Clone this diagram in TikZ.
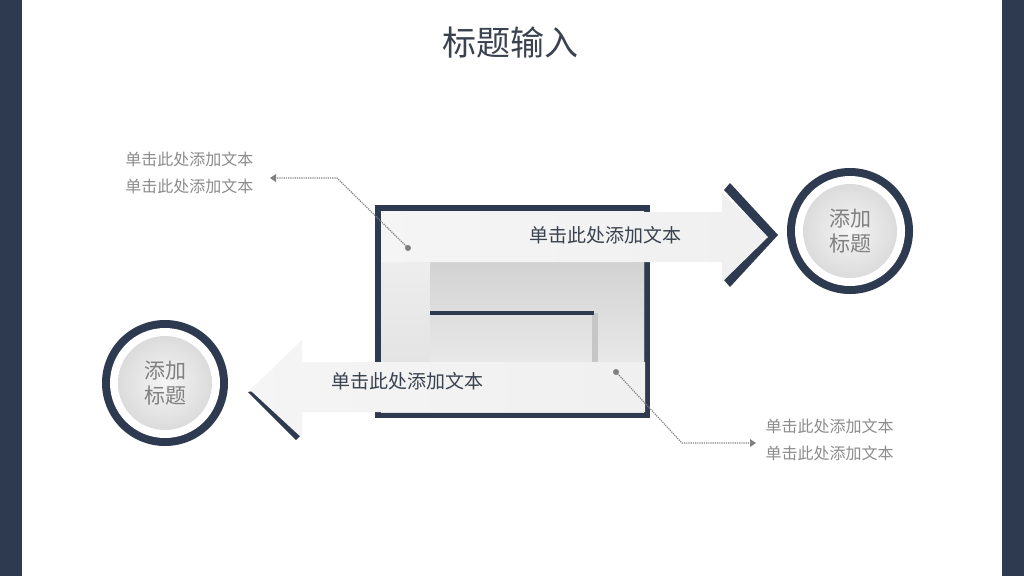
\documentclass[tikz,border=0pt]{standalone}
\usepackage{fontspec}
\newfontfamily\cjk{Noto Sans CJK SC}
\begin{document}
\begin{tikzpicture}[x=1pt,y=-1pt,
  note/.style={font=\cjk\fontsize{16}{27}\selectfont,text=gray!90,align=left},
  lead/.style={draw=gray,densely dotted,line width=1.2pt},
  arrtext/.style={font=\cjk\fontsize{19}{20}\selectfont,text=navytext}]
\definecolor{navy}{HTML}{2E3A4F}
\definecolor{navytext}{HTML}{3A4250}
\useasboundingbox (0,0) rectangle (1024,576);
\fill[white] (0,0) rectangle (1024,576);
\fill[navy] (0,0) rectangle (22,576);
\fill[navy] (1002,0) rectangle (1024,576);
\node (title) at (510,43) {\cjk\fontsize{34}{36}\selectfont\color{navytext}标题输入};
% frame
\fill[navy] (375,205) rectangle (650,418);
\shade[top color=gray!10,bottom color=gray!25] (381,211) rectangle (644,412);
\shade[top color=gray!35,bottom color=gray!18] (430,262) rectangle (644,362);
\fill[gray!45] (592,313) rectangle (598,362);
\draw[navy,line width=4pt] (430,313) -- (594,313);
% upper arrow
\fill[navy] (730,183) -- (778,235) -- (730,287) -- (724,280) -- (766,235) -- (724,190) -- cycle;
\shade[left color=gray!8,right color=gray!12] (381,212) -- (722,212) -- (722,192) -- (768,237) -- (722,282) -- (722,262) -- (381,262) -- cycle;
\node[arrtext] (t1) at (605,235) {单击此处添加文本};
% lower arrow
\fill[navy] (248,392) -- (296,440) -- (302,434) -- (258,390) -- cycle;
\shade[left color=gray!8,right color=gray!12] (645,362) -- (302,362) -- (302,340) -- (250,390) -- (302,438) -- (302,412) -- (645,412) -- cycle;
\node[arrtext] (t2) at (407,381) {单击此处添加文本};
% circles
\foreach \n/\cx/\cy in {c1/850/231,c2/165/383}{
  \fill[navy] (\cx,\cy) circle (63);
  \fill[white] (\cx,\cy) circle (55);
  \shade[inner color=gray!8,outer color=gray!28] (\cx,\cy) circle (47);
  \node[font=\cjk\fontsize{21}{25}\selectfont,text=gray,align=center] (\n) at (\cx,\cy) {添加\\标题};
}
% notes
\node[note,anchor=east] (n1) at (257,173) {单击此处添加文本\\单击此处添加文本};
\node[note,anchor=west] (n2) at (762,440) {单击此处添加文本\\单击此处添加文本};
\coordinate (d1) at (408,248);
\coordinate (d2) at (616,372);
\coordinate (e1) at (276,178);
\coordinate (e2) at (750,443);
\fill[gray] (d1) circle (3);
\fill[gray] (d2) circle (3);
\draw[lead] (d1) -- (337,178) -- (e1);
\draw[lead] (d2) -- (682,443) -- (e2);
\fill[gray] (756,443) -- (750,439) -- (750,447) -- cycle;
\fill[gray] (270,178) -- (276,174) -- (276,182) -- cycle;
\end{tikzpicture}
\end{document}
